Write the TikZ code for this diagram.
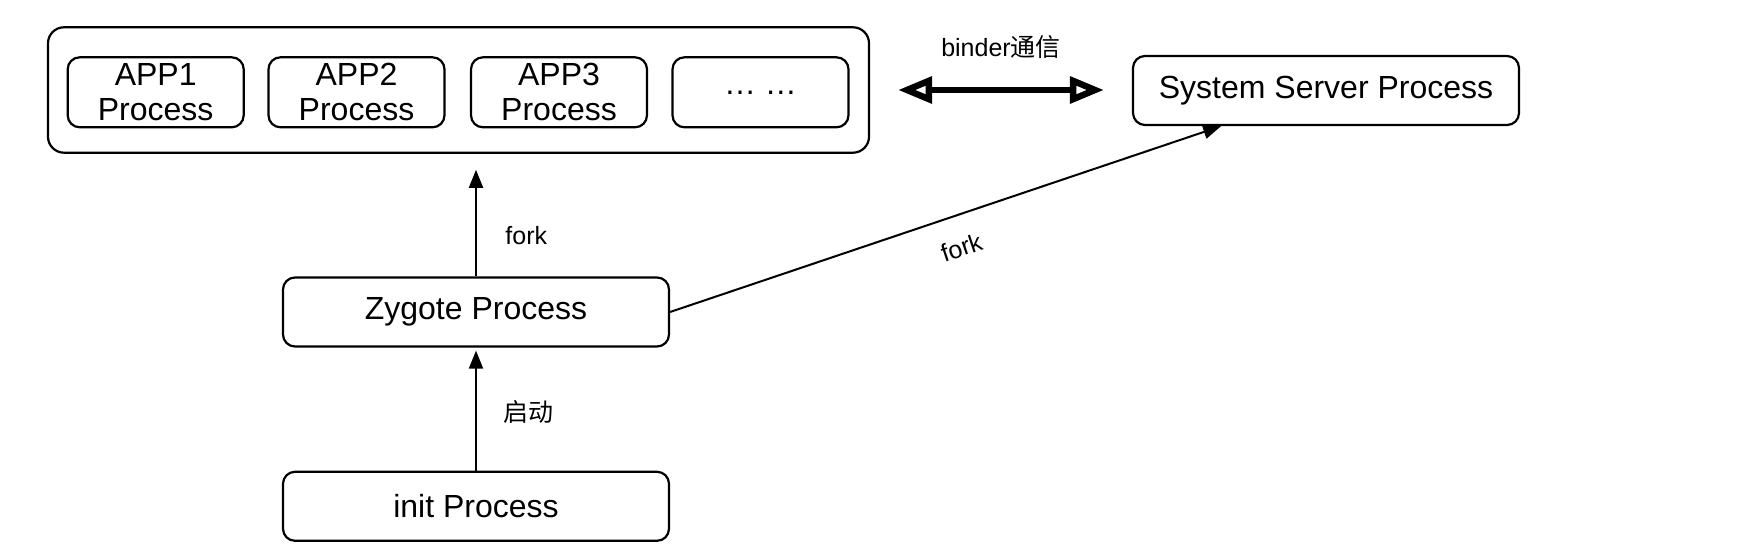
\documentclass[tikz,border=0pt]{standalone}
\usepackage{fontspec}
\setmainfont{Liberation Sans}
\newfontfamily\cjk{Noto Sans CJK SC}
\usetikzlibrary{arrows.meta,calc}
\tikzset{
  box/.style={draw, line width=1.1pt, rounded corners=6pt, inner sep=0pt, align=center,
    font=\fontsize{16}{17.5}\selectfont},
  procbox/.style={box, minimum width=193pt, minimum height=34.5pt},
  appbox/.style={box, minimum width=88pt, minimum height=35pt},
  outerbox/.style={draw, line width=1.1pt, rounded corners=8pt, inner sep=0pt, minimum width=410.5pt, minimum height=62.7pt},
  arr/.style={line width=1pt, -{Triangle[length=9pt,width=7pt]}},
  dbl/.style={line width=2.8pt, {Triangle[open,line width=3.2pt,length=17pt,width=13pt]}-{Triangle[open,line width=3.2pt,length=17pt,width=13pt]}},
  lbl/.style={font=\fontsize{12.5}{14}\selectfont, inner sep=0pt}
}
\begin{document}
\begin{tikzpicture}[x=0.5pt,y=-0.5pt]
\useasboundingbox (0,0) rectangle (1738,560);
% top group
\node[outerbox] (outer) at (458.5,90) {};
\node[appbox] (app1) at (155.7,92.3) {APP1\\Process};
\node[appbox] (app2) at (356.5,92.3) {APP2\\Process};
\node[appbox] (app3) at (559,92.3) {APP3\\Process};
\node[appbox] (more) at (760.5,92.3) {\dots\ \dots};
% other processes
\node[procbox] (ss) at (1326,90.5) {System Server Process};
\node[procbox] (zyg) at (476,312) {Zygote Process};
\node[procbox] (init) at (476,506.3) {init Process};
% binder
\draw[dbl, shorten <=14pt, shorten >=14pt] (outer.east) -- (ss.west |- outer.east)
  node[midway, lbl, yshift=21.5pt] (binder) {binder{\cjk 通信}};
% fork to apps
\draw[arr, shorten >=8pt] (zyg.north) -- (zyg.north |- outer.south);
\node[lbl, anchor=west] (fork1) at (505,236) {fork};
% init starts zygote
\draw[arr, shorten >=1.5pt] (init.north) -- (zyg.south);
\node[lbl, anchor=west] (qd) at (503,412) {{\cjk 启动}};
% fork to system server
\coordinate (sstarget) at ($(ss.south west)!0.23!(ss.south east)$);
\draw[arr] (zyg.east) -- (sstarget)
  node[pos=0.51, sloped, lbl, yshift=-16pt] (fork2) {fork};
\end{tikzpicture}
\end{document}
